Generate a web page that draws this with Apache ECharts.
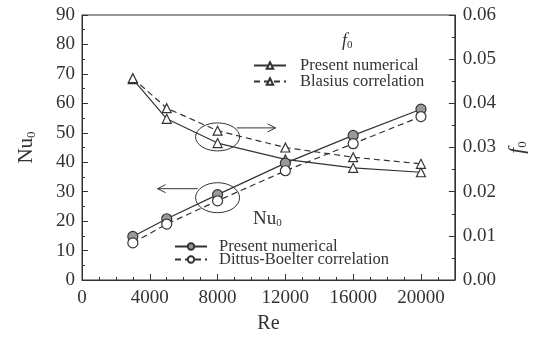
<!DOCTYPE html>
<html>
<head>
<meta charset="utf-8">
<script src="https://cdn.jsdelivr.net/npm/echarts@6/dist/echarts.min.js"></script>
<style>
html, body { margin: 0; padding: 0; background: #fff; }
#chart { width: 537px; height: 348px; }
</style>
</head>
<body>
<div id="chart"></div>
<script>
var re = [3000, 5000, 8000, 12000, 16000, 20000];
// Nu0
var nuPresent = [14.8, 20.8, 29.0, 39.7, 49.1, 58.0];
var nuDittus = [12.6, 19.0, 26.9, 37.1, 46.3, 55.5];
// f0
var fPresent = [0.0455, 0.0365, 0.0310, 0.0273, 0.0254, 0.0244];
var fBlasius = [0.0457, 0.0389, 0.0338, 0.0300, 0.0278, 0.0263];

var font = 'Liberation Serif';
var ink = '#333';

function pairs(xs, ys) {
    return xs.map(function (x, i) { return [x, ys[i]]; });
}

var chart = echarts.init(document.getElementById('chart'));

var option = {
    animation: false,
    textStyle: { fontFamily: font, color: ink },
    grid: {
        left: 82, right: 82, top: 15, bottom: 68,
        show: true, borderColor: ink, borderWidth: 1
    },
    legend: [
        {
            data: ['Present numerical f', 'Blasius correlation'],
            orient: 'vertical',
            left: 248, top: 52,
            itemWidth: 32, itemHeight: 8, itemGap: -1,
            textStyle: { fontFamily: font, fontSize: 16.5, color: ink, lineHeight: 17, padding: [0, 0, 0, 9] },
            formatter: function (n) { return n === 'Present numerical f' ? 'Present numerical' : n; }
        },
        {
            data: ['Present numerical Nu', 'Dittus-Boelter correlation'],
            orient: 'vertical',
            left: 169, top: 233,
            itemWidth: 32, itemHeight: 8, itemGap: -4,
            textStyle: { fontFamily: font, fontSize: 16.5, color: ink, lineHeight: 14, padding: [0, 0, 0, 7] },
            formatter: function (n) { return n === 'Present numerical Nu' ? 'Present numerical' : n; }
        }
    ],
    xAxis: {
        type: 'value',
        min: 0, max: 22000, interval: 4000,
        name: 'Re', nameLocation: 'middle', nameGap: 34,
        nameTextStyle: { fontFamily: font, fontSize: 20, color: ink },
        axisLine: { lineStyle: { color: ink } },
        axisTick: { inside: true, length: 6, lineStyle: { color: ink } },
        minorTick: { show: true, splitNumber: 4, length: 3, lineStyle: { color: ink } },
        splitLine: { show: false },
        axisLabel: {
            fontFamily: font, fontSize: 19, color: ink, margin: 9,
            formatter: function (v) { return v > 20000 ? '' : String(v); }
        }
    },
    yAxis: [
        {
            type: 'value', position: 'left',
            min: 0, max: 90, interval: 10,
            name: '{a|Nu}{b|0}', nameLocation: 'middle', nameGap: 44, nameRotate: 90,
            nameTextStyle: {
                fontFamily: font, color: ink,
                rich: {
                    a: { fontFamily: font, fontSize: 21, color: ink },
                    b: { fontFamily: font, fontSize: 13, color: ink, padding: [10, 0, 0, 0] }
                }
            },
            axisLine: { show: true, lineStyle: { color: ink } },
            axisTick: { show: true, inside: true, length: 6, lineStyle: { color: ink } },
            minorTick: { show: true, splitNumber: 2, length: 3, lineStyle: { color: ink } },
            splitLine: { show: false },
            axisLabel: { fontFamily: font, fontSize: 19, color: ink, margin: 7 }
        },
        {
            type: 'value', position: 'right',
            min: 0, max: 0.06, interval: 0.01,
            name: '{a|f}{b|0}', nameLocation: 'middle', nameGap: 45, nameRotate: 90,
            nameTextStyle: {
                fontFamily: font, color: ink,
                rich: {
                    a: { fontFamily: font, fontStyle: 'italic', fontSize: 21, color: ink },
                    b: { fontFamily: font, fontSize: 13, color: ink, padding: [10, 0, 0, 0] }
                }
            },
            axisLine: { show: true, lineStyle: { color: ink } },
            axisTick: { show: true, inside: true, length: 6, lineStyle: { color: ink } },
            minorTick: { show: true, splitNumber: 2, length: 3, lineStyle: { color: ink } },
            splitLine: { show: false },
            axisLabel: {
                fontFamily: font, fontSize: 19, color: ink, margin: 8,
                formatter: function (v) { return v.toFixed(2); }
            }
        }
    ],
    series: [
        {
            name: 'Present numerical f', type: 'line', yAxisIndex: 1,
            data: pairs(re, fPresent),
            symbol: 'triangle', symbolSize: 9,
            lineStyle: { color: ink, width: 1.2 },
            itemStyle: { color: '#fff', borderColor: ink, borderWidth: 1.2 }
        },
        {
            name: 'Blasius correlation', type: 'line', yAxisIndex: 1,
            data: pairs(re, fBlasius),
            symbol: 'triangle', symbolSize: 9,
            lineStyle: { color: ink, width: 1.2, type: [6, 4] },
            itemStyle: { color: '#fff', borderColor: ink, borderWidth: 1.2 }
        },
        {
            name: 'Present numerical Nu', type: 'line', yAxisIndex: 0,
            data: pairs(re, nuPresent),
            symbol: 'circle', symbolSize: 10,
            lineStyle: { color: ink, width: 1.2 },
            itemStyle: { color: '#9a9a9a', borderColor: ink, borderWidth: 1.2 }
        },
        {
            name: 'Dittus-Boelter correlation', type: 'line', yAxisIndex: 0,
            data: pairs(re, nuDittus),
            symbol: 'circle', symbolSize: 10,
            lineStyle: { color: ink, width: 1.2, type: [6, 4] },
            itemStyle: { color: '#fff', borderColor: ink, borderWidth: 1.2 }
        }
    ]
};

chart.setOption(option);

// annotations: ellipses around the Re = 8000 points, arrows pointing to the axis used
var pf = chart.convertToPixel({ xAxisIndex: 0, yAxisIndex: 1 }, [re[2], (fPresent[2] + fBlasius[2]) / 2]);
var pn = chart.convertToPixel({ xAxisIndex: 0, yAxisIndex: 0 }, [re[2], (nuPresent[2] + nuDittus[2]) / 2]);
var rx = 22, ry = 14;
var ls = { stroke: ink, lineWidth: 1, fill: null };

chart.setOption({
    graphic: [
        { type: 'ellipse', shape: { cx: pf[0], cy: pf[1], rx: rx, ry: ry }, style: ls },
        { type: 'ellipse', shape: { cx: pn[0], cy: pn[1], rx: rx, ry: 15 }, style: ls },
        { type: 'line', shape: { x1: pf[0] + rx - 3, y1: pf[1] - 9, x2: pf[0] + rx + 36, y2: pf[1] - 9 }, style: ls },
        { type: 'polyline', shape: { points: [[pf[0] + rx + 28, pf[1] - 13], [pf[0] + rx + 36, pf[1] - 9], [pf[0] + rx + 28, pf[1] - 5]] }, style: ls },
        { type: 'line', shape: { x1: pn[0] - rx + 2, y1: pn[1] - 9, x2: pn[0] - rx - 38, y2: pn[1] - 9 }, style: ls },
        { type: 'polyline', shape: { points: [[pn[0] - rx - 30, pn[1] - 13], [pn[0] - rx - 38, pn[1] - 9], [pn[0] - rx - 30, pn[1] - 5]] }, style: ls },
        {
            type: 'text', left: 342, top: 32,
            style: {
                text: '{a|f}{b|0}', fill: ink,
                rich: {
                    a: { fontFamily: font, fontStyle: 'italic', fontSize: 18, fill: ink },
                    b: { fontFamily: font, fontSize: 11, fill: ink, padding: [8, 0, 0, 0] }
                }
            }
        },
        {
            type: 'text', left: 253, top: 210,
            style: {
                text: '{a|Nu}{b|0}', fill: ink,
                rich: {
                    a: { fontFamily: font, fontSize: 19, fill: ink },
                    b: { fontFamily: font, fontSize: 11, fill: ink, padding: [8, 0, 0, 0] }
                }
            }
        }
    ]
});
</script>
</body>
</html>
